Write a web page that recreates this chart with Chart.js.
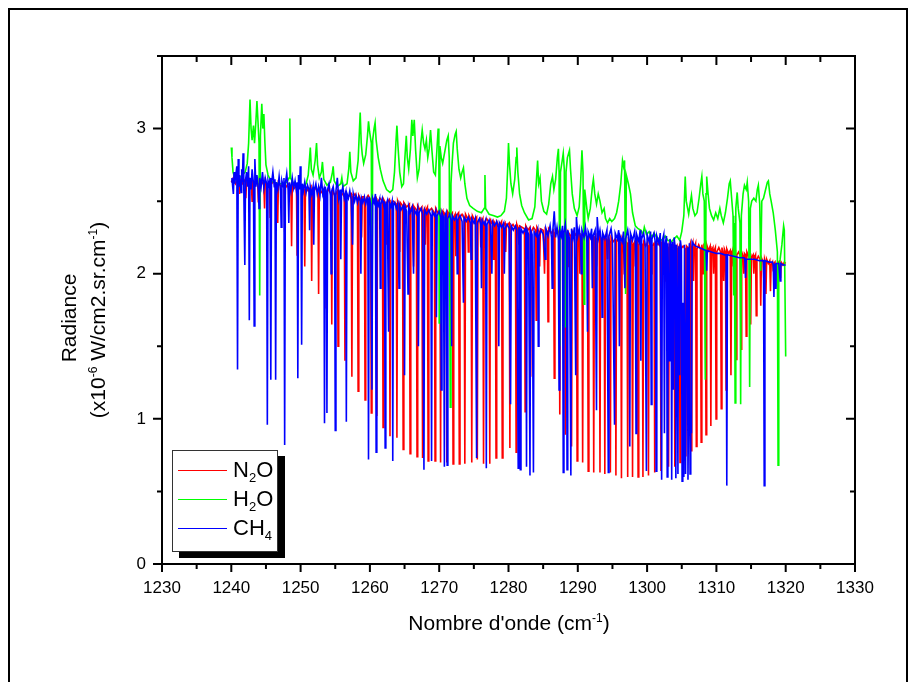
<!DOCTYPE html>
<html>
<head>
<meta charset="utf-8">
<script src="https://cdn.jsdelivr.net/npm/chart.js@4.4.1/dist/chart.umd.min.js"></script>
<style>
  body { margin: 0; background: #fff; }
  #wrap { position: relative; width: 909px; height: 682px; overflow: hidden; font-family: "Liberation Sans", Arial, sans-serif; color: #000; }
  #chart { position: absolute; left: 0; top: 0; }
  #frame { position: absolute; left: 8px; top: 8px; width: 896px; height: 700px; border: 2px solid #000; border-bottom: none; }
  .title { position: absolute; font-size: 21px; white-space: nowrap; line-height: 21px; }
  .rot { transform: translate(-50%, -50%) rotate(-90deg); }
  .sup { font-size: 12px; position: relative; top: -8px; }
  #legend { position: absolute; left: 172px; top: 450px; width: 104px; height: 100px; background: #fff; border: 1px solid #333; box-shadow: 7px 6px 0 #000; }
  .lgline { position: absolute; left: 178px; width: 49px; height: 0; border-top: 1px solid; }
  .lgtext { position: absolute; left: 233px; font-size: 22px; line-height: 22px; white-space: nowrap; }
  .sub { font-size: 13px; position: relative; top: 5px; }
</style>
</head>
<body>
<div id="wrap">
  <canvas id="chart" width="909" height="682"></canvas>
  <div id="frame"></div>
  <div class="title rot" style="left:68px; top:318px;">Radiance</div>
  <div class="title rot" style="left:99px; top:320px;">(x10<span class="sup">-6</span> W/cm2.sr.cm<span class="sup">-1</span>)</div>
  <div class="title" style="left:509px; top:612px; transform: translateX(-50%);">Nombre d'onde (cm<span class="sup">-1</span>)</div>
  <div id="legend"></div>
  <div class="lgline" style="top:470px; border-color:#ff0000;"></div>
  <div class="lgline" style="top:499px; border-color:#00ff00;"></div>
  <div class="lgline" style="top:528px; border-color:#0000ff;"></div>
  <div class="lgtext" style="top:459px;">N<span class="sub">2</span>O</div>
  <div class="lgtext" style="top:488px;">H<span class="sub">2</span>O</div>
  <div class="lgtext" style="top:517px;">CH<span class="sub">4</span></div>
</div>
<script>
// axes
const xMin = 1230, xMax = 1330, xMinorStep = 5;
const yMin = 0, yMax = 3.5, yMinorStep = 0.5;
const xTickValues = [1230, 1240, 1250, 1260, 1270, 1280, 1290, 1300, 1310, 1320, 1330];
const yTickValues = [0, 1, 2, 3];

// series [wavenumber, radiance]
const seriesNames = ['N2O', 'H2O', 'CH4'];
const seriesColors = ['#ff0000', '#00ff00', '#0000ff'];

const n2oPoints = [
  [1240.0,2.63],[1240.3,2.66],[1240.6,2.62],[1240.9,2.65],
  [1241.1,2.64],[1241.2,2.55],[1241.3,2.65],[1241.6,2.62],
  [1242.0,2.65],[1242.1,2.52],[1242.2,2.63],[1242.5,2.66],
  [1242.9,2.62],[1243.0,2.50],[1243.1,2.64],[1243.45,2.61],
  [1243.8,2.65],[1243.9,2.49],[1244.0,2.62],[1244.35,2.64],
  [1244.7,2.61],[1244.8,2.45],[1244.9,2.64],[1245.2,2.60],
  [1245.5,2.63],[1245.6,2.39],[1245.7,2.61],[1246.1,2.64],
  [1246.6,2.60],[1246.7,2.35],[1246.8,2.63],[1247.2,2.60],
  [1247.6,2.62],[1247.7,2.29],[1247.8,2.59],[1248.2,2.62],
  [1248.6,2.60],[1248.7,2.19],[1248.8,2.62],[1249.1,2.59],
  [1249.4,2.61],[1249.5,2.13],[1249.6,2.58],[1250.0,2.61],
  [1250.5,2.58],[1250.6,2.05],[1250.7,2.60],[1251.1,2.57],
  [1251.5,2.60],[1251.6,1.95],[1251.7,2.57],[1252.1,2.59],
  [1252.5,2.56],[1252.6,1.86],[1252.7,2.59],[1253.05,2.56],
  [1253.4,2.58],[1253.5,1.76],[1253.6,2.55],[1254.0,2.58],
  [1254.4,2.55],[1254.5,1.65],[1254.6,2.57],[1254.95,2.54],
  [1255.3,2.57],[1255.4,1.50],[1255.5,2.54],[1255.9,2.56],
  [1256.3,2.53],[1256.4,1.40],[1256.5,2.56],[1256.9,2.53],
  [1257.3,2.55],[1257.4,1.29],[1257.5,2.52],[1257.85,2.55],
  [1258.2,2.52],[1258.3,1.19],[1258.4,2.54],[1258.7,2.51],[1258.8,2.25],[1258.9,2.53],
  [1259.2,2.53],[1259.3,1.13],[1259.4,2.51],[1259.75,2.54],
  [1260.1,2.51],[1260.2,1.04],[1260.3,2.53],[1260.6,2.50],
  [1260.9,2.52],[1261.0,1.02],[1261.1,2.49],[1261.45,2.52],
  [1261.8,2.50],[1261.9,0.94],[1262.0,2.51],[1262.3,2.48],[1262.4,2.20],[1262.5,2.49],
  [1262.8,2.51],[1262.9,0.88],[1263.0,2.48],[1263.4,2.50],
  [1263.8,2.48],[1263.9,0.87],[1264.0,2.50],[1264.2,2.47],[1264.3,2.15],[1264.4,2.49],
  [1264.7,2.47],[1264.8,0.79],[1264.9,2.49],[1265.3,2.46],
  [1265.7,2.48],[1265.8,0.76],[1265.9,2.45],[1266.2,2.47],[1266.3,2.05],[1266.4,2.46],
  [1266.7,2.44],[1266.8,0.74],[1266.9,2.47],[1267.2,2.44],
  [1267.5,2.46],[1267.6,0.73],[1267.7,2.43],[1267.9,2.45],[1268.0,2.20],[1268.1,2.44],
  [1268.3,2.46],[1268.4,0.71],[1268.5,2.43],[1268.9,2.45],
  [1269.3,2.42],[1269.4,0.71],[1269.5,2.45],[1269.8,2.42],
  [1270.1,2.44],[1270.2,0.70],[1270.3,2.41],[1270.5,2.43],[1270.6,2.10],[1270.7,2.42],
  [1271.0,2.40],[1271.1,0.70],[1271.2,2.43],[1271.55,2.40],
  [1271.9,2.42],[1272.0,0.69],[1272.1,2.39],[1272.3,2.41],[1272.4,2.12],[1272.5,2.40],
  [1272.8,2.42],[1272.9,0.69],[1273.0,2.39],[1273.3,2.41],
  [1273.6,2.38],[1273.7,0.69],[1273.8,2.41],[1274.1,2.38],[1274.2,2.15],[1274.3,2.40],
  [1274.6,2.37],[1274.7,0.70],[1274.8,2.40],[1275.1,2.37],
  [1275.4,2.39],[1275.5,0.72],[1275.6,2.36],[1275.9,2.38],[1276.0,2.18],[1276.1,2.36],
  [1276.3,2.38],[1276.4,0.69],[1276.5,2.35],[1276.85,2.38],
  [1277.2,2.35],[1277.3,0.69],[1277.4,2.37],[1277.7,2.34],[1277.8,2.10],[1277.9,2.36],
  [1278.1,2.34],[1278.2,0.73],[1278.3,2.36],[1278.65,2.33],
  [1279.0,2.36],[1279.1,0.73],[1279.2,2.33],[1279.5,2.35],[1279.6,2.15],[1279.7,2.33],
  [1280.1,2.35],[1280.2,0.80],[1280.3,2.32],[1280.65,2.34],
  [1281.0,2.31],[1281.1,0.77],[1281.2,2.34],[1281.4,2.31],[1281.5,2.20],[1281.6,2.33],
  [1282.3,2.31],[1282.4,1.05],[1282.5,2.33],[1282.8,2.30],
  [1283.1,2.32],[1283.2,1.29],[1283.3,2.29],[1283.6,2.32],
  [1283.9,2.30],[1284.0,1.68],[1284.1,2.32],[1284.4,2.29],[1284.5,2.05],[1284.6,2.31],
  [1285.0,2.30],[1285.2,2.00],[1285.3,2.31],
  [1285.6,2.29],[1285.7,1.67],[1285.8,2.31],[1286.2,2.28],
  [1286.5,2.30],[1286.6,1.28],[1286.7,2.28],[1287.0,2.31],
  [1287.3,2.28],[1287.4,1.03],[1287.5,2.30],[1287.8,2.27],
  [1288.1,2.30],[1288.2,0.89],[1288.3,2.27],[1288.5,2.29],[1288.6,2.05],[1288.7,2.28],
  [1289.0,2.26],[1289.1,0.81],[1289.2,2.29],[1289.5,2.26],
  [1289.8,2.28],[1289.9,0.71],[1290.0,2.25],[1290.2,2.28],[1290.3,2.00],[1290.4,2.26],
  [1290.6,2.27],[1290.7,0.70],[1290.8,2.25],[1291.1,2.27],
  [1291.4,2.25],[1291.5,0.64],[1291.6,2.27],[1291.9,2.24],
  [1292.2,2.26],[1292.3,0.63],[1292.4,2.24],[1292.6,2.26],[1292.7,2.05],[1292.8,2.24],
  [1293.1,2.26],[1293.2,0.63],[1293.3,2.23],[1293.55,2.25],
  [1293.8,2.23],[1293.9,0.62],[1294.0,2.25],[1294.2,2.23],[1294.3,2.10],[1294.4,2.25],
  [1294.6,2.22],[1294.7,0.63],[1294.8,2.25],[1295.1,2.22],
  [1295.4,2.24],[1295.5,0.61],[1295.6,2.22],[1295.9,2.24],
  [1296.2,2.21],[1296.3,0.59],[1296.4,2.24],[1296.6,2.21],[1296.7,2.00],[1296.8,2.23],
  [1297.1,2.21],[1297.2,0.60],[1297.3,2.23],[1297.55,2.20],
  [1297.8,2.23],[1297.9,0.60],[1298.0,2.20],[1298.2,2.22],[1298.3,2.05],[1298.4,2.20],
  [1298.6,2.22],[1298.7,0.60],[1298.8,2.20],[1299.05,2.22],
  [1299.3,2.20],[1299.4,0.60],[1299.5,2.22],[1299.8,2.19],
  [1300.1,2.22],[1300.2,0.61],[1300.3,2.19],[1300.5,2.21],[1300.6,2.00],[1300.7,2.19],
  [1301.0,2.21],[1301.1,0.63],[1301.2,2.18],[1301.55,2.21],
  [1301.9,2.19],[1302.0,0.64],[1302.1,2.21],[1302.4,2.18],[1302.6,1.95],[1302.7,2.20],
  [1303.0,2.18],[1303.1,0.67],[1303.2,2.20],[1303.55,2.17],
  [1303.9,2.20],[1304.0,0.67],[1304.1,2.17],[1304.3,2.19],[1304.4,1.90],[1304.5,2.17],
  [1304.65,2.19],[1304.75,0.70],[1304.85,2.17],[1305.2,2.19],
  [1305.5,2.17],[1305.6,0.74],[1305.7,2.19],[1306.0,2.17],
  [1306.25,2.21],[1306.35,0.78],[1306.45,2.18],[1306.6,2.21],[1306.7,1.95],[1306.8,2.18],
  [1307.0,2.21],[1307.1,0.81],[1307.2,2.17],[1307.45,2.20],
  [1307.7,2.17],[1307.8,0.84],[1307.9,2.20],[1308.0,2.16],[1308.1,2.00],[1308.2,2.19],
  [1308.4,2.17],[1308.5,0.89],[1308.6,2.20],[1308.85,2.16],
  [1309.1,2.19],[1309.2,0.95],[1309.3,2.16],[1309.5,2.18],[1309.6,2.00],[1309.7,2.16],
  [1309.85,2.18],[1309.95,1.00],[1310.05,2.15],[1310.35,2.18],
  [1310.6,2.15],[1310.7,1.07],[1310.8,2.18],[1310.95,2.14],[1311.05,1.95],[1311.15,2.17],
  [1311.3,2.15],[1311.4,1.20],[1311.5,2.17],[1311.75,2.14],
  [1312.0,2.16],[1312.1,1.30],[1312.2,2.13],[1312.35,2.16],[1312.45,2.05],[1312.55,2.14],
  [1312.75,2.15],[1312.85,1.41],[1312.95,2.13],[1313.2,2.15],
  [1313.45,2.12],[1313.55,1.48],[1313.65,2.15],[1313.85,2.12],[1313.95,2.00],[1314.05,2.14],
  [1314.2,2.13],[1314.3,1.57],[1314.4,2.15],[1314.65,2.12],
  [1314.85,2.14],[1314.95,1.65],[1315.05,2.11],[1315.3,2.13],[1315.4,2.00],[1315.5,2.11],
  [1315.65,2.13],[1315.75,1.71],[1315.85,2.10],[1316.05,2.12],
  [1316.3,2.10],[1316.4,1.78],[1316.5,2.11],[1316.75,2.08],[1316.85,1.95],[1316.95,2.10],
  [1317.05,2.08],[1317.15,1.86],[1317.25,2.10],[1317.5,2.07],
  [1317.7,2.09],[1317.8,1.88],[1317.9,2.06],[1318.1,2.08],[1318.2,2.02],[1318.3,2.07],
  [1318.45,2.08],[1318.55,1.91],[1318.65,2.06],[1318.9,2.08],
  [1319.15,2.05],[1319.25,1.97],[1319.35,2.08],[1319.6,2.06],[1319.8,2.08],[1320.0,2.07]
];

const h2oPoints = [
  [1240.0,2.87],[1240.1,2.80],[1240.25,2.70],[1240.5,2.66],[1240.8,2.65],[1241.2,2.66],[1241.6,2.68],
  [1242.0,2.70],[1242.3,2.76],[1242.5,2.90],[1242.7,3.20],[1242.85,3.00],[1243.0,2.92],[1243.2,3.02],
  [1243.35,2.90],[1243.55,3.05],[1243.7,3.19],[1243.85,3.05],[1244.0,2.90],[1244.1,1.85],[1244.2,2.95],
  [1244.4,3.17],[1244.55,3.00],[1244.7,3.10],[1244.85,2.90],[1245.0,2.75],[1245.3,2.68],[1245.7,2.64],
  [1246.2,2.63],[1246.8,2.62],[1247.4,2.62],[1248.0,2.63],[1248.35,2.66],[1248.45,3.07],[1248.55,2.66],
  [1249.0,2.62],[1249.6,2.61],[1250.2,2.60],[1250.8,2.62],[1251.1,2.68],[1251.3,2.80],[1251.4,2.87],
  [1251.55,2.72],[1251.8,2.68],[1252.1,2.78],[1252.3,2.90],[1252.45,2.75],[1252.7,2.66],[1253.0,2.70],
  [1253.15,2.77],[1253.35,2.65],[1253.8,2.61],[1254.3,2.63],[1254.6,2.70],[1254.7,2.74],[1254.85,2.64],
  [1255.3,2.60],[1255.8,2.62],[1255.95,2.66],[1256.1,2.60],[1256.7,2.62],[1256.95,2.72],[1257.1,2.84],
  [1257.25,2.70],[1257.6,2.64],[1258.0,2.66],[1258.3,2.78],[1258.5,3.00],[1258.6,3.11],[1258.75,2.90],
  [1258.9,2.82],[1259.1,2.76],[1259.4,2.82],[1259.65,2.95],[1259.8,3.05],[1259.95,2.98],[1260.2,2.90],
  [1260.3,1.45],[1260.4,2.92],[1260.6,3.00],[1260.75,3.04],[1260.9,2.92],[1261.2,2.80],[1261.5,2.72],
  [1261.9,2.64],[1262.4,2.58],[1262.9,2.56],[1263.3,2.58],[1263.55,2.70],[1263.75,2.90],[1263.9,3.02],
  [1264.05,2.88],[1264.3,2.70],[1264.6,2.60],[1264.85,2.62],[1265.05,2.80],[1265.25,2.95],[1265.4,2.80],
  [1265.6,2.72],[1265.85,2.86],[1266.05,3.06],[1266.2,2.95],[1266.4,3.06],[1266.6,2.85],[1266.85,2.66],
  [1267.1,2.72],[1267.35,2.90],[1267.55,2.99],[1267.75,2.90],[1267.95,2.86],[1268.15,2.92],[1268.35,2.80],
  [1268.55,2.86],[1268.75,2.99],[1268.95,2.85],[1269.2,2.70],[1269.45,2.68],[1269.7,2.88],[1269.85,3.00],
  [1269.95,2.90],[1270.0,1.66],[1270.1,2.88],[1270.3,2.80],[1270.5,2.76],[1270.8,2.84],[1271.1,2.92],
  [1271.3,2.95],[1271.45,2.80],[1271.6,1.08],[1271.7,2.62],[1271.85,2.75],[1272.05,2.90],[1272.3,2.96],
  [1272.45,2.98],[1272.6,2.86],[1272.85,2.72],[1273.1,2.66],[1273.3,2.70],[1273.5,2.73],[1273.7,2.62],
  [1274.0,2.52],[1274.4,2.47],[1274.9,2.45],[1275.5,2.43],[1276.1,2.42],[1276.5,2.45],[1276.6,2.68],
  [1276.7,2.45],[1277.2,2.41],[1277.9,2.40],[1278.4,2.39],[1278.9,2.40],[1279.4,2.43],[1279.7,2.52],
  [1279.9,2.75],[1280.0,2.90],[1280.15,2.75],[1280.35,2.62],[1280.6,2.55],[1280.9,2.65],[1281.1,2.80],
  [1281.2,2.87],[1281.35,2.70],[1281.6,2.55],[1281.9,2.47],[1282.3,2.42],[1282.9,2.37],[1283.4,2.38],
  [1283.8,2.46],[1284.05,2.66],[1284.2,2.78],[1284.35,2.62],[1284.55,2.66],[1284.75,2.50],[1285.1,2.43],
  [1285.5,2.41],[1285.8,2.48],[1286.1,2.62],[1286.35,2.67],[1286.55,2.58],[1286.8,2.65],[1287.05,2.80],
  [1287.2,2.86],[1287.3,2.70],[1287.4,1.50],[1287.5,2.70],[1287.75,2.78],[1287.9,2.83],[1288.05,2.72],
  [1288.2,1.63],[1288.3,2.70],[1288.5,2.80],[1288.8,2.85],[1288.95,2.72],[1289.2,2.55],[1289.5,2.45],
  [1289.9,2.40],[1290.2,2.46],[1290.4,2.62],[1290.6,2.85],[1290.75,2.70],[1290.9,1.79],[1291.0,2.58],
  [1291.3,2.45],[1291.5,2.38],[1291.8,2.45],[1292.1,2.60],[1292.25,2.65],[1292.45,2.55],[1292.7,2.48],
  [1292.95,2.55],[1293.2,2.50],[1293.5,2.42],[1293.8,2.45],[1294.0,2.38],[1294.3,2.35],[1294.6,2.38],
  [1294.9,2.36],[1295.3,2.38],[1295.6,2.42],[1295.9,2.50],[1296.2,2.62],[1296.45,2.78],[1296.6,2.74],
  [1296.75,2.78],[1296.9,1.86],[1297.0,2.68],[1297.3,2.62],[1297.6,2.55],[1297.9,2.42],[1298.3,2.33],
  [1298.7,2.31],[1299.1,2.30],[1299.4,2.27],[1299.6,2.32],[1299.9,2.27],[1300.3,2.29],[1300.7,2.25],
  [1301.0,2.28],[1301.4,2.25],[1301.8,2.24],[1302.2,2.23],[1302.6,2.26],[1303.0,2.23],[1303.5,2.22],
  [1303.9,2.24],[1304.3,2.26],[1304.7,2.23],[1305.0,2.29],[1305.3,2.40],[1305.5,2.67],[1305.65,2.50],
  [1305.85,2.45],[1306.0,2.41],[1306.2,2.48],[1306.4,2.54],[1306.6,2.45],[1306.9,2.40],[1307.2,2.42],
  [1307.5,2.52],[1307.75,2.62],[1307.9,2.67],[1308.05,2.55],[1308.25,2.50],[1308.4,1.27],[1308.5,2.55],
  [1308.6,2.67],[1308.8,2.55],[1309.0,2.45],[1309.3,2.40],[1309.6,2.37],[1309.9,2.42],[1310.2,2.38],
  [1310.5,2.45],[1310.7,2.40],[1311.0,2.35],[1311.3,2.42],[1311.6,2.52],[1311.85,2.62],[1312.0,2.64],
  [1312.2,2.52],[1312.4,2.40],[1312.5,1.85],[1312.6,2.35],[1312.7,1.11],[1312.8,2.45],[1313.0,2.56],
  [1313.15,2.45],[1313.4,2.35],[1313.5,1.10],[1313.6,2.40],[1313.85,2.55],[1314.05,2.61],[1314.3,2.58],
  [1314.45,2.63],[1314.65,2.50],[1314.8,1.22],[1314.9,2.45],[1315.1,2.50],[1315.4,2.52],[1315.7,2.50],
  [1315.9,2.58],[1316.05,2.61],[1316.25,2.48],[1316.4,2.02],[1316.55,2.50],[1316.8,2.52],[1317.1,2.58],
  [1317.35,2.63],[1317.5,2.64],[1317.7,2.55],[1317.9,2.50],[1318.2,2.42],[1318.5,2.30],[1318.8,2.15],
  [1318.9,0.68],[1319.0,2.05],[1319.2,2.10],[1319.45,2.20],[1319.7,2.33],[1319.8,2.30],[1320.0,1.43]
];

const ch4Points = [
  [1240.0,2.63],[1240.1,2.66],[1240.2,2.60],[1240.3,2.55],[1240.4,2.70],[1240.5,2.62],
  [1240.8,2.74],[1240.9,1.34],[1241.0,2.79],[1241.1,2.60],[1241.2,2.68],
  [1241.4,2.56],[1241.5,2.72],[1241.6,2.63],[1241.7,2.83],[1241.8,2.60],
  [1241.95,2.06],[1242.05,2.64],[1242.2,2.70],[1242.35,2.60],
  [1242.5,2.74],[1242.6,1.68],[1242.7,2.66],[1242.85,2.58],[1243.0,2.72],
  [1243.2,2.62],[1243.3,1.64],[1243.4,2.79],[1243.55,2.60],[1243.7,2.68],[1243.9,2.58],[1244.0,2.45],
  [1244.1,2.66],[1244.3,2.60],[1244.5,2.70],[1244.7,2.59],[1244.9,2.66],
  [1245.1,2.62],[1245.2,0.96],[1245.3,2.64],[1245.5,2.60],
  [1245.6,2.66],[1245.7,1.27],[1245.8,2.62],[1246.0,2.70],[1246.2,2.60],
  [1246.3,2.65],[1246.4,1.27],[1246.5,2.63],[1246.7,2.58],[1246.9,2.67],[1247.1,2.57],[1247.2,2.32],
  [1247.3,2.64],[1247.5,2.60],
  [1247.6,2.66],[1247.7,0.82],[1247.8,2.62],[1248.0,2.69],[1248.2,2.58],[1248.3,2.35],[1248.4,2.63],
  [1248.6,2.57],[1248.8,2.66],[1249.0,2.59],[1249.2,2.64],[1249.4,2.57],
  [1249.5,2.63],[1249.6,1.28],[1249.7,2.68],[1249.85,2.58],[1249.95,2.74],
  [1250.05,2.64],[1250.15,1.51],[1250.25,2.62],[1250.4,2.57],[1250.6,2.63],[1250.8,2.56],[1251.0,2.61],
  [1251.2,2.58],[1251.3,2.30],[1251.4,2.60],[1251.6,2.55],[1251.8,2.60],[1251.9,2.20],[1252.0,2.58],
  [1252.2,2.62],[1252.4,2.55],[1252.6,2.60],[1252.8,2.54],[1253.0,2.66],[1253.2,2.55],
  [1253.35,2.58],[1253.45,0.97],[1253.55,2.60],[1253.7,2.56],[1253.8,1.04],[1253.9,2.58],[1254.1,2.62],
  [1254.3,2.54],[1254.4,2.00],[1254.5,2.57],[1254.7,2.60],[1254.9,2.53],
  [1255.0,0.92],[1255.1,2.57],[1255.3,2.66],[1255.5,2.52],[1255.7,2.58],[1255.8,2.10],[1255.9,2.55],
  [1256.1,2.60],[1256.3,2.52],[1256.5,2.56],
  [1256.6,0.98],[1256.7,2.55],[1256.9,2.52],[1257.1,2.57],[1257.3,2.51],[1257.5,2.20],[1257.6,2.55],
  [1257.8,2.50],[1258.0,2.54],[1258.2,2.49],[1258.4,2.53],[1258.6,2.50],[1258.7,2.00],[1258.8,2.52],
  [1259.0,2.49],[1259.2,2.53],[1259.4,2.48],[1259.6,2.52],
  [1259.7,2.50],[1259.8,0.72],[1259.9,2.53],[1260.1,2.48],[1260.3,1.20],[1260.4,2.52],[1260.6,2.49],
  [1260.8,2.55],[1260.9,0.77],[1261.0,2.50],[1261.2,2.47],[1261.4,2.51],[1261.5,1.90],[1261.6,2.48],
  [1261.8,2.52],[1262.0,2.47],[1262.1,2.50],[1262.2,0.80],[1262.3,2.47],[1262.5,2.50],[1262.7,1.60],
  [1262.8,2.49],[1263.0,2.46],[1263.2,2.50],[1263.3,0.71],[1263.4,2.47],[1263.6,2.49],[1263.8,2.45],
  [1264.0,2.48],[1264.2,1.90],[1264.3,2.47],[1264.5,2.44],[1264.8,2.47],[1264.9,2.43],[1265.0,1.30],
  [1265.1,2.46],[1265.3,2.43],[1265.5,1.86],[1265.6,2.46],[1265.8,2.42],[1266.1,2.46],[1266.3,2.00],
  [1266.4,2.44],[1266.7,2.41],[1266.9,2.45],[1267.0,1.50],[1267.1,2.42],[1267.4,2.45],[1267.6,2.41],
  [1267.8,0.65],[1267.9,2.44],[1268.2,2.41],[1268.5,2.44],[1268.8,2.40],
  [1268.9,0.71],[1269.0,2.43],[1269.3,2.40],[1269.5,2.43],[1269.6,1.70],[1269.7,2.40],[1270.0,2.43],
  [1270.2,2.39],[1270.3,1.20],[1270.4,2.42],[1270.6,2.39],
  [1270.75,0.67],[1270.85,2.40],[1271.0,2.42],[1271.15,0.68],[1271.25,2.38],[1271.5,2.41],[1271.7,2.37],
  [1271.8,1.50],[1271.9,2.40],[1272.2,2.37],[1272.5,2.40],[1272.6,2.00],[1272.7,2.37],[1273.0,2.40],
  [1273.3,2.36],[1273.5,1.80],[1273.6,2.39],[1273.9,2.36],[1274.2,2.39],[1274.5,2.35],[1274.6,2.10],
  [1274.7,2.38],[1275.0,2.35],[1275.2,2.38],
  [1275.4,0.73],[1275.5,2.35],[1275.8,2.38],[1276.0,2.34],[1276.1,1.90],[1276.2,2.37],[1276.5,2.34],
  [1276.7,2.37],[1276.8,0.66],[1276.9,2.34],[1277.2,2.37],[1277.4,2.33],[1277.6,2.00],[1277.7,2.36],
  [1278.0,2.33],[1278.3,2.36],[1278.5,2.32],[1278.6,1.50],[1278.7,2.35],[1279.0,2.32],[1279.3,2.35],
  [1279.4,2.00],[1279.5,2.31],[1279.8,2.34],[1280.1,2.31],[1280.3,1.10],[1280.4,2.33],[1280.7,2.30],
  [1281.0,2.33],[1281.2,2.30],
  [1281.4,0.66],[1281.5,2.32],[1281.6,2.29],[1281.7,0.65],[1281.8,2.31],[1282.1,2.28],[1282.4,2.31],
  [1282.5,2.28],[1282.6,0.67],[1282.7,2.30],[1282.9,2.27],[1283.1,0.61],[1283.2,2.30],[1283.4,2.27],
  [1283.6,0.63],[1283.7,2.29],[1284.0,2.26],[1284.2,2.30],[1284.3,1.50],[1284.4,2.26],[1284.7,2.30],
  [1285.0,2.27],[1285.3,2.10],[1285.4,2.31],[1285.7,2.26],[1286.0,2.33],[1286.2,2.25],[1286.3,1.90],
  [1286.4,2.30],[1286.6,2.43],[1286.8,2.25],[1287.0,2.32],[1287.2,2.24],[1287.3,1.20],[1287.4,2.30],
  [1287.6,2.26],[1287.8,2.33],
  [1287.9,0.63],[1288.0,2.28],[1288.2,2.34],[1288.35,2.25],[1288.45,0.65],[1288.55,2.30],[1288.8,2.24],
  [1289.0,0.61],[1289.1,2.31],[1289.3,2.25],[1289.5,2.32],[1289.7,1.30],[1289.8,2.39],[1290.0,2.26],
  [1290.2,2.31],[1290.4,2.24],[1290.5,2.00],[1290.6,2.30],[1290.9,2.25],[1291.1,2.32],[1291.3,2.24],
  [1291.4,1.60],[1291.5,2.29],[1291.8,2.25],[1292.0,2.31],[1292.1,1.90],[1292.2,2.26],[1292.5,2.30],
  [1292.7,1.06],[1292.8,2.39],[1293.0,2.25],[1293.2,2.30],[1293.4,2.23],[1293.5,1.70],[1293.6,2.28],
  [1293.9,2.24],[1294.2,2.30],
  [1294.4,0.63],[1294.5,2.26],[1294.8,2.31],[1295.0,2.23],[1295.3,0.96],[1295.4,2.28],[1295.7,2.24],
  [1295.9,2.30],[1296.0,1.50],[1296.1,2.26],[1296.4,2.22],[1296.6,2.29],[1296.8,1.90],[1296.9,2.24],
  [1297.2,2.30],[1297.4,2.22],
  [1297.5,0.81],[1297.6,2.28],[1297.9,2.23],[1298.2,2.29],[1298.3,2.22],[1298.4,0.90],[1298.5,2.27],
  [1298.8,2.22],[1299.0,2.30],[1299.1,1.40],[1299.2,2.24],[1299.5,2.28],[1299.7,2.21],
  [1299.9,0.64],[1300.0,2.27],[1300.3,2.22],[1300.5,2.29],[1300.6,1.10],[1300.7,2.24],[1301.0,2.28],
  [1301.2,2.21],[1301.3,0.64],[1301.4,2.26],[1301.7,2.21],[1301.9,2.28],
  [1302.1,0.58],[1302.2,2.23],[1302.4,2.27],[1302.5,0.90],[1302.6,2.20],[1302.8,2.26],[1302.9,0.60],
  [1303.0,2.21],[1303.1,1.90],[1303.2,1.40],[1303.3,2.24],[1303.45,2.19],[1303.55,0.58],[1303.65,2.22],
  [1303.8,1.20],[1303.9,2.25],[1304.05,2.18],[1304.15,0.59],[1304.25,2.20],[1304.35,1.60],[1304.45,0.62],
  [1304.55,2.19],[1304.7,1.30],[1304.8,2.23],[1304.95,2.17],[1305.05,0.57],[1305.15,1.80],[1305.3,0.60],
  [1305.4,2.20],[1305.55,0.62],[1305.65,1.50],[1305.8,2.18],[1305.9,0.58],[1306.0,1.20],[1306.1,2.21],
  [1306.2,0.62],[1306.3,1.00],[1306.4,0.90],[1306.5,2.22],[1306.6,2.21],
  [1307.0,2.19],[1307.5,2.18],[1308.0,2.17],[1308.5,2.16],[1308.6,2.02],[1308.7,2.16],[1309.3,2.15],
  [1310.0,2.14],[1310.6,2.14],[1311.2,2.13],[1311.4,2.13],[1311.5,0.54],[1311.6,2.13],[1312.5,2.12],
  [1313.3,2.11],[1314.0,2.11],[1314.1,2.10],[1314.2,1.97],[1314.3,2.10],[1315.0,2.10],[1315.5,2.10],
  [1316.2,2.09],[1316.8,2.09],[1316.9,0.54],[1317.0,2.09],[1317.6,2.08],[1318.1,2.08],[1318.2,2.06],
  [1318.3,1.84],[1318.4,2.07],[1318.5,1.90],[1318.6,2.07],[1319.0,2.07],[1319.2,1.95],[1319.3,2.07],
  [1319.6,2.06],[1320.0,2.06]
];

const seriesPoints = [n2oPoints, h2oPoints, ch4Points];

// axis box and ticks, mirrored on top and right like the original plot
const axisBox = {
  id: 'axisBox',
  afterDatasetsDraw(chart) {
    const { ctx, chartArea: a, scales: { x, y } } = chart;
    ctx.save();
    ctx.strokeStyle = '#000';
    ctx.lineWidth = 2;
    ctx.strokeRect(a.left, a.top, a.right - a.left, a.bottom - a.top);
    ctx.beginPath();
    for (let v = xMin; v <= xMax; v += xMinorStep) {
      const px = x.getPixelForValue(v);
      const len = xTickValues.includes(v) ? 8 : 5;
      ctx.moveTo(px, a.bottom); ctx.lineTo(px, a.bottom + len);
      ctx.moveTo(px, a.top); ctx.lineTo(px, a.top + len + 1);
    }
    for (let v = yMin; v <= yMax + 1e-9; v += yMinorStep) {
      const py = y.getPixelForValue(v);
      const len = yTickValues.includes(v) ? 9 : 5;
      ctx.moveTo(a.left, py); ctx.lineTo(a.left - len, py);
      ctx.moveTo(a.right, py); ctx.lineTo(a.right - len, py);
    }
    ctx.stroke();
    ctx.restore();
  }
};

new Chart(document.getElementById('chart'), {
  type: 'line',
  data: {
    datasets: seriesNames.map((name, i) => ({
      label: name,
      data: seriesPoints[i].map(p => ({ x: p[0], y: p[1] })),
      borderColor: seriesColors[i],
      borderWidth: 1.6,
      pointRadius: 0,
      tension: 0,
      fill: false,
      order: 3 - i  // CH4 drawn last, on top
    }))
  },
  options: {
    responsive: false,
    animation: false,
    events: [],
    layout: { padding: { top: 56, right: 54, left: 0, bottom: 0 } },
    plugins: { legend: { display: false }, tooltip: { enabled: false } },
    scales: {
      x: {
        type: 'linear',
        min: xMin, max: xMax,
        afterBuildTicks: s => { s.ticks = xTickValues.map(v => ({ value: v })); },
        afterFit: s => { s.height = 118; },
        grid: { display: false, drawTicks: false },
        border: { display: false },
        ticks: { color: '#000', padding: 14, maxRotation: 0, callback: v => String(v),
                 font: { family: 'Liberation Sans, Arial', size: 17 } }
      },
      y: {
        type: 'linear',
        min: yMin, max: yMax,
        afterBuildTicks: s => { s.ticks = yTickValues.map(v => ({ value: v })); },
        afterFit: s => { s.width = 162; },
        grid: { display: false, drawTicks: false },
        border: { display: false },
        ticks: { color: '#000', padding: 16, callback: v => String(v),
                 font: { family: 'Liberation Sans, Arial', size: 17 } }
      }
    }
  },
  plugins: [axisBox]
});
</script>
</body>
</html>
